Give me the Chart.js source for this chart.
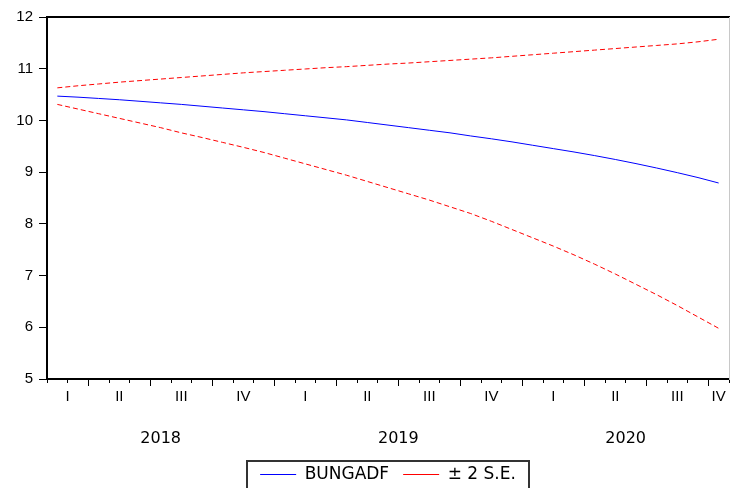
<!DOCTYPE html>
<html>
<head>
<meta charset="utf-8">
<script src="https://cdn.jsdelivr.net/npm/chart.js@4.4.0/dist/chart.umd.min.js"></script>
<style>
  html, body { margin: 0; padding: 0; background: #fff; }
  #wrap { width: 730px; height: 488px; }
</style>
</head>
<body>
<div id="wrap"><canvas id="c" width="730" height="488"></canvas></div>
<script>
// Monthly forecast periods
const periods = [
  '2018M02','2018M03','2018M04','2018M05','2018M06','2018M07','2018M08','2018M09','2018M10','2018M11','2018M12',
  '2019M01','2019M02','2019M03','2019M04','2019M05','2019M06','2019M07','2019M08','2019M09','2019M10','2019M11','2019M12',
  '2020M01','2020M02','2020M03','2020M04','2020M05','2020M06','2020M07','2020M08','2020M09','2020M10'
];

// Point forecast
const forecast = [
  10.47, 10.45, 10.425, 10.40, 10.37, 10.34, 10.31, 10.275, 10.24, 10.205, 10.17,
  10.13, 10.09, 10.05, 10.01, 9.96, 9.91, 9.86, 9.81, 9.76, 9.70, 9.645,
  9.585, 9.52, 9.455, 9.39, 9.32, 9.245, 9.165, 9.08, 8.99, 8.895, 8.79
];

// Upper and lower two-standard-error bands
const upperBand = [
  10.63, 10.67, 10.705, 10.74, 10.77, 10.80, 10.83, 10.86, 10.89, 10.92, 10.945,
  10.97, 10.995, 11.02, 11.04, 11.065, 11.09, 11.11, 11.135, 11.16, 11.185, 11.21,
  11.24, 11.27, 11.30, 11.33, 11.36, 11.39, 11.42, 11.45, 11.48, 11.52, 11.57
];
const lowerBand = [
  10.31, 10.22, 10.13, 10.04, 9.95, 9.86, 9.76, 9.67, 9.575, 9.48, 9.38,
  9.27, 9.16, 9.05, 8.94, 8.82, 8.70, 8.58, 8.46, 8.33, 8.20, 8.05,
  7.89, 7.73, 7.57, 7.40, 7.22, 7.03, 6.83, 6.63, 6.42, 6.20, 5.98
];

const yTicks = [5, 6, 7, 8, 9, 10, 11, 12];
const quarterNames = ['I', 'II', 'III', 'IV'];
const seriesNames = ['BUNGADF', '\u00b1 2 S.E.'];

// Group consecutive periods sharing a key (quarter or year)
function groupPeriods(keyOf) {
  const out = [];
  periods.forEach((p, i) => {
    const k = keyOf(p);
    const g = out[out.length - 1];
    if (!g || g.key !== k) out.push({ key: k, first: i, last: i, p });
    else g.last = i;
  });
  return out;
}
const monthOf = p => +p.slice(5);
const quarters = groupPeriods(p => p.slice(0, 4) + 'Q' + Math.ceil(monthOf(p) / 3));
const years = groupPeriods(p => p.slice(0, 4));

const n = periods.length;
const monthEdges = Array.from({ length: n + 1 }, (_, i) => i);
const quarterEdges = quarters.slice(1).map(g => g.first);
const quarterCentres = quarters.map(g => (g.first + g.last + 1) / 2);
const quarterText = quarters.map(g => quarterNames[Math.ceil(monthOf(g.p) / 3) - 1]);
const yearCentres = years.map(g => (g.first + g.last + 1) / 2);
const yearText = years.map(g => g.key);

const toPoints = arr => arr.map((v, i) => ({ x: i + 0.5, y: v }));

const sans = 'Liberation Sans, Arial, sans-serif';
const wide = 'DejaVu Sans, sans-serif';

// Frame around the legend
const legendFrame = {
  id: 'legendFrame',
  afterDraw(chart) {
    const lg = chart.legend;
    if (!lg || !lg.legendHitBoxes || !lg.legendHitBoxes.length) return;
    const hb = lg.legendHitBoxes;
    const left = Math.min(...hb.map(h => h.left)) - 13;
    const right = Math.max(...hb.map(h => h.left + h.width)) + 13;
    const top = hb[0].top - 5;
    const ctx = chart.ctx;
    ctx.save();
    ctx.strokeStyle = '#333';
    ctx.lineWidth = 2;
    ctx.strokeRect(Math.round(left), Math.round(top), Math.round(right - left), 40);
    ctx.restore();
  }
};

// Labels may run past the plot edge without shrinking the plot
const noSidePadding = s => { s.paddingLeft = 0; s.paddingRight = 0; };

const edgeAxis = (values, len) => ({
  type: 'linear', axis: 'x', position: { y: 5 }, min: 0, max: n,
  afterBuildTicks: s => { s.ticks = values.map(v => ({ value: v })); },
  ticks: { display: false },
  grid: { drawOnChartArea: false, drawTicks: true, tickLength: len, tickColor: '#000', tickWidth: 1 },
  border: { display: false },
  afterFit: noSidePadding
});

const labelAxis = (values, texts, font, pad) => ({
  type: 'linear', axis: 'x', position: { y: 5 }, min: 0, max: n,
  afterBuildTicks: s => { s.ticks = values.map(v => ({ value: v })); },
  ticks: {
    autoSkip: false, maxRotation: 0, minRotation: 0, padding: pad,
    color: '#000', font: font,
    callback: (v, i) => texts[i]
  },
  grid: { display: false, drawTicks: false },
  border: { display: false },
  afterFit: noSidePadding
});

new Chart(document.getElementById('c'), {
  type: 'line',
  data: {
    datasets: [
      {
        label: seriesNames[0], data: toPoints(forecast),
        borderColor: '#0000ff', borderWidth: 1, pointRadius: 0, tension: 0, fill: false
      },
      {
        label: seriesNames[1], data: toPoints(upperBand),
        borderColor: '#ff0000', borderWidth: 1, borderDash: [5, 3], pointRadius: 0, tension: 0, fill: false
      },
      {
        label: seriesNames[1], data: toPoints(lowerBand), hideInLegend: true,
        borderColor: '#ff0000', borderWidth: 1, borderDash: [5, 3], pointRadius: 0, tension: 0, fill: false
      }
    ]
  },
  options: {
    responsive: false,
    devicePixelRatio: 1,
    animation: false,
    layout: { padding: { top: 17, right: 1, bottom: -5, left: 0 } },
    scales: {
      x: {
        type: 'linear', position: 'bottom', min: 0, max: n,
        afterBuildTicks: s => { s.ticks = monthEdges.map(v => ({ value: v })); },
        ticks: { display: false },
        grid: { drawOnChartArea: false, drawTicks: true, tickLength: 4, tickColor: '#000', tickWidth: 1 },
        border: { display: true, color: '#000', width: 2 },
        afterFit: s => { s.height = 73; noSidePadding(s); }
      },
      xq: edgeAxis(quarterEdges, 7),
      xl: labelAxis(quarterCentres, quarterText, { family: sans, size: 15 }, 9),
      xy: labelAxis(yearCentres, yearText, { family: wide, size: 16 }, 50),
      xt: {
        type: 'linear', axis: 'x', position: 'top', min: 0, max: n,
        ticks: { display: false },
        grid: { drawOnChartArea: false, drawTicks: false },
        border: { display: true, color: '#000', width: 2 },
        afterFit: s => { s.height = 0; noSidePadding(s); }
      },
      y: {
        type: 'linear', position: 'left', min: 5, max: 12,
        afterBuildTicks: s => { s.ticks = yTicks.map(v => ({ value: v })); },
        ticks: { color: '#000', padding: 6, font: { family: sans, size: 15 } },
        grid: { drawOnChartArea: false, drawTicks: true, tickLength: 8, tickColor: '#000', tickWidth: 1 },
        border: { display: true, color: '#000', width: 2 },
        afterFit: s => { s.width = 47; }
      },
      yr: {
        type: 'linear', axis: 'y', position: 'right', min: 5, max: 12,
        ticks: { display: false },
        grid: { drawOnChartArea: false, drawTicks: false },
        border: { display: true, color: '#c8c8c8', width: 1 },
        afterFit: s => { s.width = 0; }
      }
    },
    plugins: {
      tooltip: { enabled: false },
      legend: {
        position: 'bottom',
        fullSize: false,
        labels: {
          usePointStyle: true,
          pointStyle: 'line',
          pointStyleWidth: 36,
          padding: 14,
          color: '#000',
          font: { family: wide, size: 17 },
          filter: (item, data) => !data.datasets[item.datasetIndex].hideInLegend
        }
      }
    }
  },
  plugins: [legendFrame]
});
</script>
</body>
</html>
